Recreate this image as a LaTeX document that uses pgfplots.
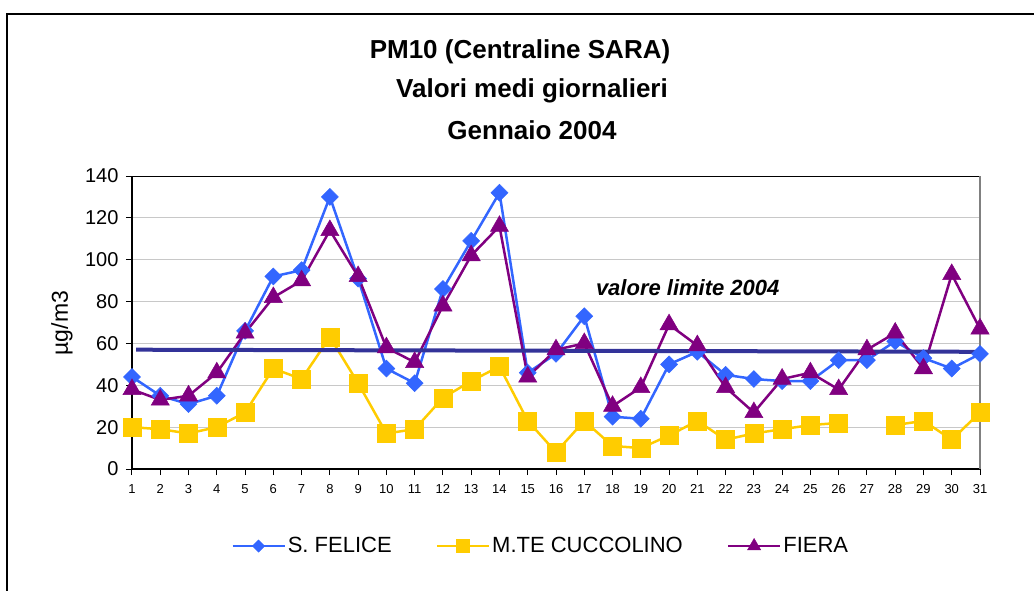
\documentclass[border=0pt]{standalone}
\usepackage{pgfplots}
\pgfplotsset{compat=1.18}
\usepackage{fontspec}
\setmainfont{Liberation Sans}
\definecolor{cblue}{HTML}{3366FF}
\definecolor{cyellow}{HTML}{FFCC00}
\definecolor{cpurple}{HTML}{800080}
\definecolor{climit}{HTML}{333399}
\definecolor{gridgray}{HTML}{C8C8C8}

\pgfplotstableread{
day felice cuccolino fiera
1 44 20 38
2 35 19 33
3 31 17 35
4 35 20 46
5 66 27 65
6 92 48 82
7 95 43 90
8 130 63 114
9 91 41 92
10 48 17 58
11 41 19 51
12 86 34 78
13 109 42 102
14 132 49 116
15 46 23 44
16 55 8 57
17 73 23 60
18 25 11 30
19 24 10 39
20 50 16 69
21 56 23 59
22 45 14 39
23 43 17 27
24 42 19 43
25 42 21 46
26 52 22 38
27 52 nan 57
28 61 21 65
29 53 23 48
30 48 14 93
31 55 27 67
}\datatable

\begin{document}
\begin{tikzpicture}[x=1pt,y=1pt]
\useasboundingbox (0,0) rectangle (1034,590);
\draw[line width=1.2pt, black] (7,-20) -- (7,576) -- (1060,576);
\node[font=\fontsize{26}{30}\selectfont\bfseries] at (520,538) {PM10 (Centraline SARA)};
\node[font=\fontsize{26}{30}\selectfont\bfseries] at (532,499) {Valori medi giornalieri};
\node[font=\fontsize{26}{30}\selectfont\bfseries] at (532,460) {Gennaio 2004};
\begin{axis}[
  at={(132pt,121pt)}, anchor=south west,
  scale only axis, width=848pt, height=293pt,
  xmin=1, xmax=31, ymin=0, ymax=140,
  xtick={1,...,31}, ytick={0,20,...,140},
  ymajorgrids, grid style={draw=gridgray, line width=1pt},
  axis line style={draw=none},
  tick style={black, line width=1pt},
  tick align=outside, major tick length=6pt,
  xtick pos=bottom, ytick pos=left,
  clip=false,
  /pgf/number format/assume math mode=true,
  xticklabel style={font=\fontsize{13}{15}\selectfont, yshift=-6pt},
  yticklabel style={font=\fontsize{20}{24}\selectfont, xshift=-4pt},
  ylabel={µg/m3},
  ylabel style={font=\fontsize{23}{27}\selectfont, at={(axis description cs:-0.0825,0.498)}, anchor=center},
  unbounded coords=jump,
  legend columns=3,
  legend style={at={(axis description cs:0.482,-0.263)}, anchor=center, draw=none, fill=none,
    font=\fontsize{22}{26}\selectfont,
    /tikz/every even column/.append style={column sep=42pt}},
  legend image code/.code={\draw[mark repeat=2,mark phase=2, every mark/.append style={scale=0.72}] plot coordinates {(0pt,0pt) (26pt,0pt) (52pt,0pt)};},
]
\draw[black, line width=1.5pt] (rel axis cs:0,1) -- (rel axis cs:0,0) -- (rel axis cs:1,0);
\draw[black, line width=1pt] (rel axis cs:0,1) -- (rel axis cs:1,1);
\draw[gray, line width=1.5pt] (rel axis cs:1,0) -- (rel axis cs:1,1);
\addplot[cblue, line width=2.5pt, mark=square*, mark size=6pt, mark options={rotate=45, fill=cblue, draw=cblue, line width=0.5pt}] table[x=day, y=felice] {\datatable};
\addlegendentry{S. FELICE}
\addplot[cyellow, line width=2.5pt, mark=square*, mark size=9pt, mark options={fill=cyellow, draw=cyellow, line width=0.5pt}] table[x=day, y=cuccolino] {\datatable};
\addlegendentry{M.TE CUCCOLINO}
\addplot[cpurple, line width=2.5pt, mark=triangle*, mark size=10.5pt, mark options={fill=cpurple, draw=cpurple, line width=0.5pt}] table[x=day, y=fiera] {\datatable};
\addlegendentry{FIERA}
\addplot[climit, line width=4pt, forget plot] coordinates {(1.15,57) (31,56)};
\node[font=\fontsize{22}{26}\selectfont\bfseries\itshape] at (axis cs:20.66,86.5) {valore limite 2004};
\end{axis}
\end{tikzpicture}
\end{document}
